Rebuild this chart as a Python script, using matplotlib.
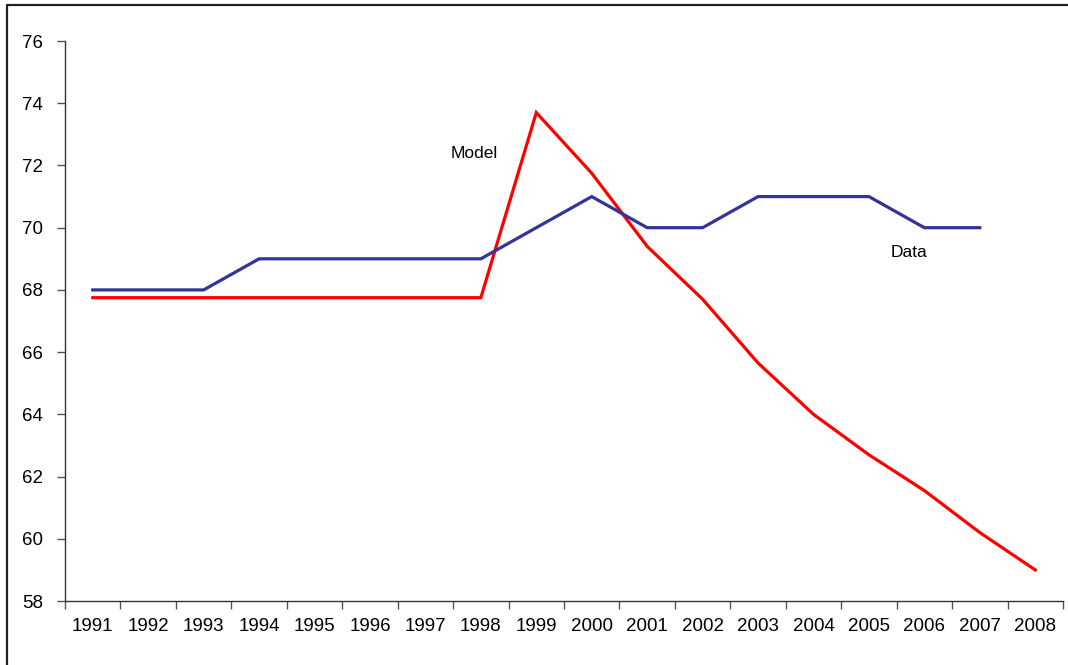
import matplotlib
matplotlib.use("Agg")
import matplotlib.pyplot as plt
from matplotlib.lines import Line2D
import numpy as np

plt.rcParams['font.family'] = ['Liberation Sans', 'DejaVu Sans']

# Data
years = [str(y) for y in range(1991, 2009)]
data_vals = [68, 68, 68, 69, 69, 69, 69, 69, 70, 71, 70, 70, 71, 71, 71, 70, 70, np.nan]
model_vals = [67.75, 67.75, 67.75, 67.75, 67.75, 67.75, 67.75, 67.75,
              73.7, 71.75, 69.4, 67.7, 65.65, 64.0, 62.7, 61.55, 60.2, 59.0]
yticks = list(range(58, 77, 2))

fig = plt.figure(figsize=(10.68, 6.65), dpi=100)
ax = fig.add_axes([0.0609, 0.0962, 0.9344, 0.8421])

x = np.arange(len(years)) + 0.5
ax.plot(x, model_vals, color='#FF0000', lw=2.3, solid_joinstyle='miter')
ax.plot(x, data_vals, color='#333399', lw=2.3, solid_joinstyle='miter')

ax.set_xlim(0, len(years))
ax.set_ylim(58, 76)
ax.set_yticks(yticks)
ax.set_yticklabels([str(v) for v in yticks], fontsize=13.5)

# category boundaries get the tick marks, labels sit in the middle
ax.set_xticks(np.arange(len(years) + 1))
ax.set_xticklabels([])
ax.set_xticks(x, minor=True)
ax.set_xticklabels(years, minor=True, fontsize=13.5)
ax.tick_params(axis='x', which='major', length=6, width=1, color='#555555', direction='out')
ax.tick_params(axis='x', which='minor', length=0, pad=12)
ax.tick_params(axis='y', length=6, width=1, color='#555555', pad=10)

for s in ['top', 'right']:
    ax.spines[s].set_visible(False)
for s in ['left', 'bottom']:
    ax.spines[s].set_color('#333333')
    ax.spines[s].set_linewidth(1)

ax.text(7.38, 72.4, 'Model', fontsize=12.5, ha='center', va='center')
ax.text(15.22, 69.19, 'Data', fontsize=12.5, ha='center', va='center')

# chart frame: only top and left edges show in the original crop
fig.lines.append(Line2D([0.0066, 0.0066, 1.0], [0.0, 0.992, 0.992], transform=fig.transFigure,
                        color='#222222', lw=1.6))

fig.savefig('out.png', dpi=100)
